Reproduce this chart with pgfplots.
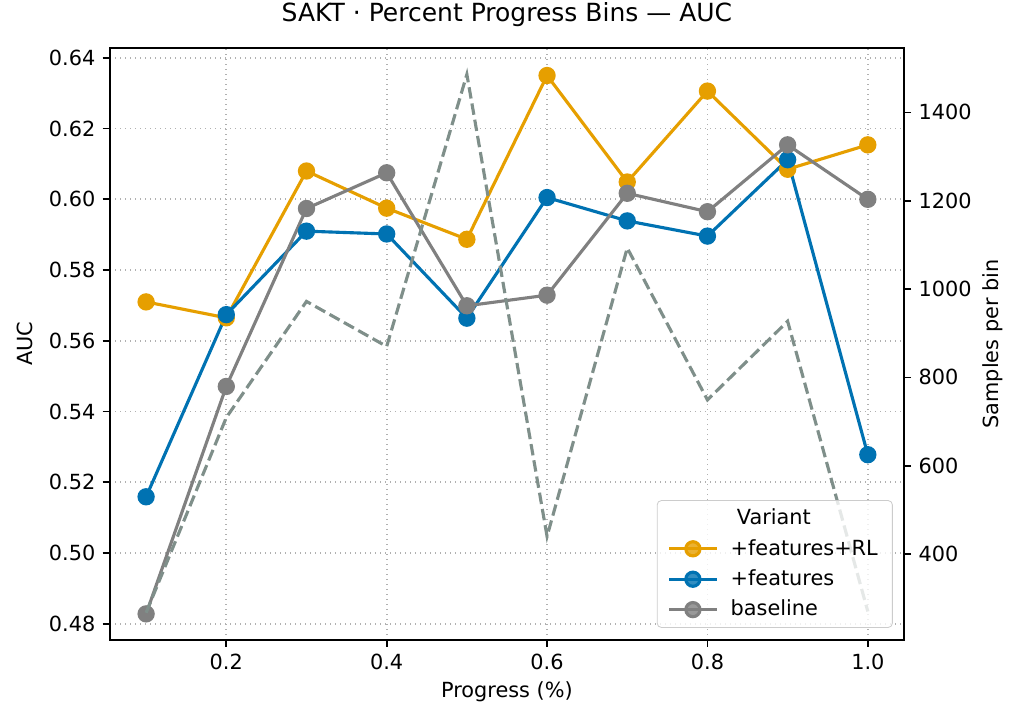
\documentclass[border=0pt]{standalone}
\usepackage{fontspec}
\setmainfont{DejaVu Sans}
\usepackage{pgfplots}
\pgfplotsset{compat=1.18}
\definecolor{cOrange}{HTML}{E69F00}
\definecolor{cBlue}{HTML}{0072B2}
\definecolor{cGray}{HTML}{808080}
\definecolor{cDash}{HTML}{7F8F8A}
\definecolor{gridc}{HTML}{B0B0B0}
\definecolor{legc}{HTML}{CCCCCC}
\begin{document}
\begin{tikzpicture}
\pgfplotsset{
  every axis/.append style={
    scale only axis, width=381pt, height=284pt,
    xmin=0.055, xmax=1.045,
    /pgf/number format/assume math mode=true,
    /pgf/number format/1000 sep={},
    tick label style={font=\fontsize{10}{12}\selectfont},
    label style={font=\fontsize{10}{12}\selectfont},
    tick align=outside, major tick length=3.5pt,
    every tick/.style={black, line width=0.8pt},
    axis line style={line width=0.8pt},
  },
  legend image code/.code={\draw[#1, mark repeat=2, mark phase=2] plot coordinates {(0cm,0cm) (0.4cm,0cm) (0.8cm,0cm)};},
}
\begin{axis}[
  ymin=0.4755, ymax=0.6428,
  xtick={0.2,0.4,0.6,0.8,1.0},
  ytick={0.48,0.50,0.52,0.54,0.56,0.58,0.60,0.62,0.64},
  xticklabel style={/pgf/number format/.cd, fixed, fixed zerofill, precision=1},
  yticklabel style={/pgf/number format/.cd, fixed, fixed zerofill, precision=2},
  xtick pos=bottom, ytick pos=left,
  grid=major, grid style={dotted, gridc, line width=0.8pt},
  title={SAKT · Percent Progress Bins — AUC},
  title style={font=\fontsize{12}{14}\selectfont, at={(axis description cs:0.5,1.0355)}, anchor=center},
  xlabel={Progress (\%)}, ylabel={AUC},
  every axis x label/.style={at={(axis description cs:0.5,-0.088)}, anchor=center},
  every axis y label/.style={at={(axis description cs:-0.107,0.5)}, anchor=center, rotate=90},
]
\addplot[cOrange, line width=1.5pt, mark=*, mark size=3.4pt] coordinates {
(0.1,0.5710) (0.2,0.5665) (0.3,0.6080) (0.4,0.5975) (0.5,0.5887)
(0.6,0.6350) (0.7,0.6049) (0.8,0.6306) (0.9,0.6085) (1.0,0.6154)};
\addplot[cBlue, line width=1.5pt, mark=*, mark size=3.4pt] coordinates {
(0.1,0.5159) (0.2,0.5674) (0.3,0.5910) (0.4,0.5902) (0.5,0.5664)
(0.6,0.6005) (0.7,0.5939) (0.8,0.5896) (0.9,0.6112) (1.0,0.5278)};
\addplot[cGray, line width=1.5pt, mark=*, mark size=3.4pt] coordinates {
(0.1,0.4828) (0.2,0.5471) (0.3,0.5974) (0.4,0.6075) (0.5,0.5699)
(0.6,0.5729) (0.7,0.6017) (0.8,0.5965) (0.9,0.6154) (1.0,0.6000)};
\coordinate (sw) at (rel axis cs:0,0);
\coordinate (ne) at (rel axis cs:1,1);
\end{axis}
\begin{axis}[
  axis x line=none, axis y line*=right,
  ymin=206, ymax=1546,
  ytick={400,600,800,1000,1200,1400},
  ylabel={Samples per bin},
  every axis y label/.style={at={(axis description cs:1.112,0.5)}, anchor=center, rotate=90},
  legend style={at={(0.986,0.02)}, anchor=south east, draw=legc, fill=white,
    fill opacity=0.8, text opacity=1, draw opacity=1, rounded corners=2pt,
    font=\fontsize{10}{12}\selectfont, row sep=1.5pt, inner xsep=5pt,
    /tikz/every odd column/.append style={column sep=4pt}},
  legend cell align=left,
]
\addplot[cDash, line width=1.5pt, dash pattern=on 5.5pt off 2.4pt, forget plot] coordinates {
(0.1,267) (0.2,709) (0.3,972) (0.4,870) (0.5,1486)
(0.6,440) (0.7,1093) (0.8,749) (0.9,927) (1.0,270)};
\addlegendimage{empty legend}\addlegendentry{\hspace{3pt}Variant}
\addlegendimage{cOrange, line width=1.5pt, mark=*, mark size=3.4pt}\addlegendentry{+features+RL}
\addlegendimage{cBlue, line width=1.5pt, mark=*, mark size=3.4pt}\addlegendentry{+features}
\addlegendimage{cGray, line width=1.5pt, mark=*, mark size=3.4pt}\addlegendentry{baseline}
\end{axis}
\pgfresetboundingbox
\useasboundingbox ([shift={(-52.8pt,-38.9pt)}]sw) rectangle ([shift={(56.2pt,23pt)}]ne);
\end{tikzpicture}
\end{document}
